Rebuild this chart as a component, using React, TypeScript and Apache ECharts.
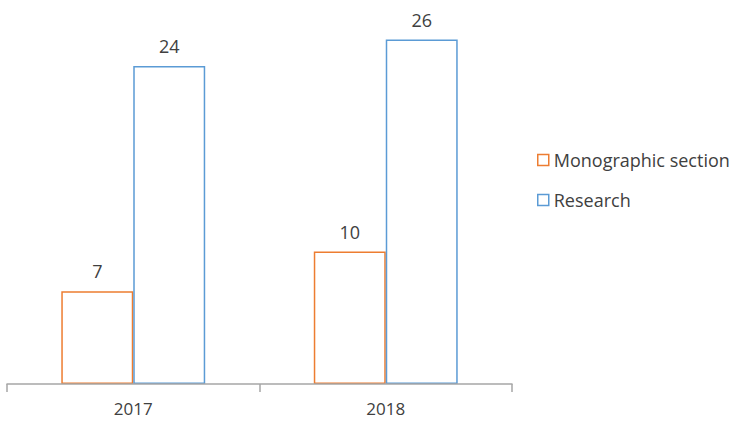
import React, { useEffect, useRef } from "react";
import * as echarts from "echarts";

const years = ["2017", "2018"];
const monographic = [7, 10];
const research = [24, 26];

const ORANGE = "#ED7D31";
const BLUE = "#5B9BD5";
const FONT = "'Open Sans', 'DejaVu Sans', sans-serif";
const TEXT = "#404040";

export default function App() {
  const ref = useRef<HTMLDivElement>(null);

  useEffect(() => {
    if (!ref.current) return;
    const chart = echarts.init(ref.current, null, { renderer: "svg" });

    const barSeries = (name: string, data: number[], color: string) => ({
      name,
      type: "bar",
      data,
      z: 2,
      barGap: "0%",
      barCategoryGap: "43%",
      itemStyle: { color: "#ffffff", borderColor: color, borderWidth: 1.5 },
      label: {
        show: true,
        position: "top",
        distance: 11,
        color: TEXT,
        fontSize: 18,
        fontFamily: FONT,
      },
    });

    chart.setOption({
      animation: false,
      backgroundColor: "#ffffff",
      grid: { left: 7, right: 231, top: 13, bottom: 39 },
      legend: {
        orient: "vertical",
        left: 532,
        top: 146,
        itemWidth: 11,
        itemHeight: 11,
        itemGap: 22,
        icon: "rect",
        textStyle: { color: TEXT, fontSize: 18, fontFamily: FONT },
        data: [
          { name: "Monographic section", itemStyle: { color: "#fff", borderColor: ORANGE, borderWidth: 1.5 } },
          { name: "Research", itemStyle: { color: "#fff", borderColor: BLUE, borderWidth: 1.5 } },
        ],
      },
      xAxis: {
        type: "category",
        data: years,
        z: 5,
        axisLine: { lineStyle: { color: "#A6A6A6", width: 1.5 } },
        axisTick: { show: true, length: 8, lineStyle: { color: "#A6A6A6", width: 1.5 } },
        axisLabel: { color: TEXT, fontSize: 17, fontFamily: FONT, margin: 16 },
      },
      yAxis: {
        type: "value",
        min: 0,
        max: 28,
        show: false,
        splitLine: { show: false },
      },
      series: [
        barSeries("Monographic section", monographic, ORANGE),
        barSeries("Research", research, BLUE),
      ],
    });

    return () => chart.dispose();
  }, []);

  return <div ref={ref} style={{ width: 743, height: 423, position: "absolute", left: 0, top: 0 }} />;
}
